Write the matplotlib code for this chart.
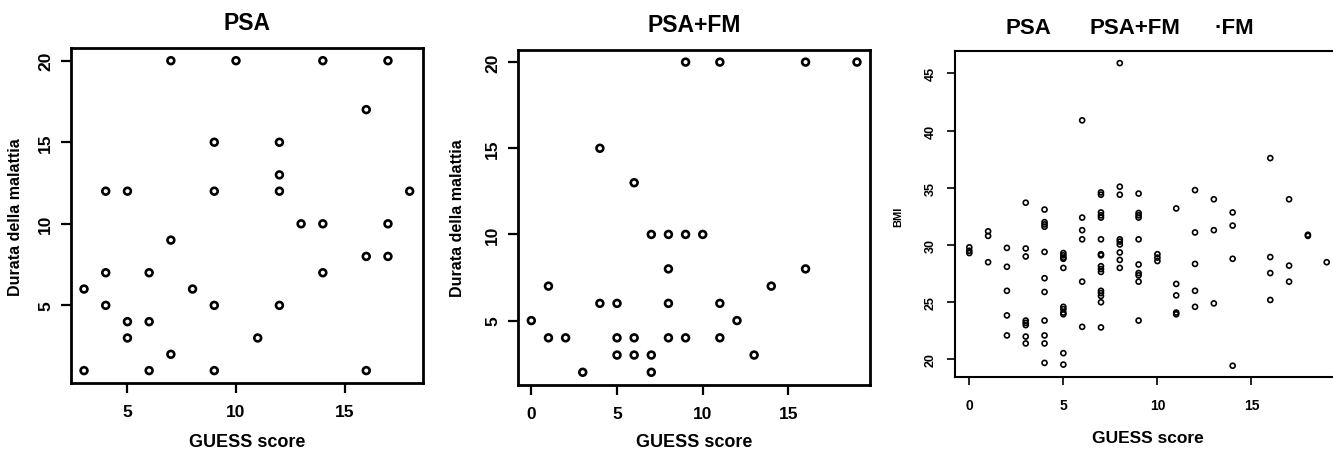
import matplotlib
matplotlib.use("Agg")
import matplotlib.pyplot as plt

# dati
psa_guess = [3, 3, 4, 4, 4, 5, 5, 5, 6, 6, 6, 7, 7, 7, 8, 9, 9, 9, 9, 10,
             11, 12, 12, 12, 12, 13, 14, 14, 14, 16, 16, 16, 17, 17, 17, 18]
psa_durata = [6, 1, 12, 7, 5, 12, 4, 3, 7, 4, 1, 20, 9, 2, 6, 15, 12, 5, 1, 20,
              3, 15, 13, 12, 5, 10, 20, 10, 7, 17, 8, 1, 20, 10, 8, 12]

psafm_guess = [0, 1, 1, 2, 3, 4, 4, 5, 5, 5, 6, 6, 6, 7, 7, 7, 8, 8, 8, 8,
               9, 9, 9, 10, 11, 11, 11, 12, 13, 14, 16, 16, 19]
psafm_durata = [5, 7, 4, 4, 2, 15, 6, 6, 4, 3, 13, 4, 3, 10, 3, 2, 10, 8, 6, 4,
                20, 10, 4, 10, 20, 6, 4, 5, 3, 7, 20, 8, 20]

bmi_guess = ([0] * 3 + [1] * 3 + [2] * 5 + [3] * 8 + [4] * 11 + [5] * 11 +
             [6] * 6 + [7] * 16 + [8] * 9 + [9] * 10 + [10] * 3 + [11] * 5 +
             [12] * 5 + [13] * 3 + [14] * 4 + [16] * 4 + [17] * 3 + [18] * 2 + [19])
bmi = [29.8, 29.5, 29.3,
       31.2, 30.8, 28.5,
       29.75, 28.1, 26.0, 23.85, 22.1,
       33.7, 29.7, 29.0, 23.4, 23.2, 23.0, 22.0, 21.4,
       33.1, 32.0, 31.8, 31.6, 29.4, 27.1, 25.9, 23.4, 22.1, 21.4, 19.7,
       29.3, 29.1, 28.9, 28.8, 28.0, 24.6, 24.4, 24.1, 23.95, 20.55, 19.55,
       40.9, 32.4, 31.3, 30.5, 26.8, 22.85,
       34.4, 34.6, 32.85, 32.6, 32.4, 30.5, 29.1, 29.2, 28.15, 27.9, 27.65, 26.0, 25.8, 25.55, 25.0, 22.8,
       45.9, 35.1, 34.4, 30.5, 30.3, 30.05, 29.35, 28.7, 28.0,
       34.5, 32.8, 32.6, 32.4, 30.5, 28.3, 27.55, 27.35, 26.8, 23.4,
       29.2, 28.9, 28.6,
       33.2, 26.6, 25.6, 24.1, 23.95,
       34.8, 31.1, 28.35, 26.0, 24.6,
       34.0, 31.3, 24.9,
       32.85, 31.7, 28.8, 19.45,
       37.6, 28.95, 27.55, 25.2,
       34.0, 28.2, 26.8,
       30.8, 30.9,
       28.5]

plt.rcParams['font.family'] = ['Liberation Sans', 'DejaVu Sans']
plt.rcParams['font.weight'] = 'bold'

W, H = 1333, 452
fig = plt.figure(figsize=(W / 100, H / 100), dpi=100)


def box(l, t, r, b):
    return [l / W, 1 - b / H, (r - l) / W, (b - t) / H]


def px(x, y):
    return x / W, 1 - y / H


def stile(ax, lw, size_x, size_y, padx, pady, tl):
    for s in ax.spines.values():
        s.set_linewidth(lw)
    ax.tick_params(direction='out', length=tl, width=lw * 0.8)
    ax.tick_params(axis='x', labelsize=size_x, pad=padx)
    ax.tick_params(axis='y', labelsize=size_y, pad=pady)
    for lab in ax.get_yticklabels():
        lab.set_rotation(90)
        lab.set_va('center')


# PSA
ax1 = fig.add_axes(box(71, 49.3, 422.7, 384))
ax1.scatter(psa_guess, psa_durata, s=24, facecolors='none', edgecolors='black', linewidths=1.9)
ax1.set_xlim(2.4, 18.6)
ax1.set_ylim(0.24, 20.76)
ax1.set_xticks([5, 10, 15])
ax1.set_yticks([5, 10, 15, 20])
stile(ax1, 2, 12.5, 12.5, 8, 6, 7)

# PSA+FM
ax2 = fig.add_axes(box(518.3, 50.7, 870, 385.7))
ax2.scatter(psafm_guess, psafm_durata, s=24, facecolors='none', edgecolors='black', linewidths=1.9)
ax2.set_xlim(-0.76, 19.76)
ax2.set_ylim(1.28, 20.72)
ax2.set_xticks([0, 5, 10, 15])
ax2.set_yticks([5, 10, 15, 20])
stile(ax2, 2, 12.5, 12.5, 8, 6, 7)

# BMI
ax3 = fig.add_axes(box(955, 52, 1341, 378.3))
ax3.scatter(bmi_guess, bmi, s=13, facecolors='none', edgecolors='black', linewidths=1.2)
ax3.set_xlim(-0.76, 19.76)
ax3.set_ylim(18.44, 46.96)
ax3.set_xticks([0, 5, 10, 15])
ax3.set_yticks([20, 25, 30, 35, 40, 45])
stile(ax3, 1.5, 10, 9, 9, 7, 6)

# titoli ed etichette
fig.text(*px(247, 23), 'PSA', fontsize=16.5, ha='center', va='center')
fig.text(*px(694, 25), 'PSA+FM', fontsize=16.5, ha='center', va='center')
fig.text(*px(1028, 29), 'PSA', fontsize=16, ha='center', va='center')
fig.text(*px(1135, 29), 'PSA+FM', fontsize=16, ha='center', va='center')
fig.text(*px(1234, 29), '·FM', fontsize=16, ha='center', va='center')

fig.text(*px(247, 443), 'GUESS score', fontsize=13, ha='center', va='center')
fig.text(*px(694, 443), 'GUESS score', fontsize=13, ha='center', va='center')
fig.text(*px(1148, 439), 'GUESS score', fontsize=12.5, ha='center', va='center')

fig.text(*px(16, 217), 'Durata della malattia', fontsize=11.5,
         rotation=90, ha='center', va='center')
fig.text(*px(458, 218), 'Durata della malattia', fontsize=11.5,
         rotation=90, ha='center', va='center')
fig.text(*px(898, 217), 'BMI', fontsize=8, rotation=90, ha='center', va='center')

fig.savefig('out.png', dpi=100)
